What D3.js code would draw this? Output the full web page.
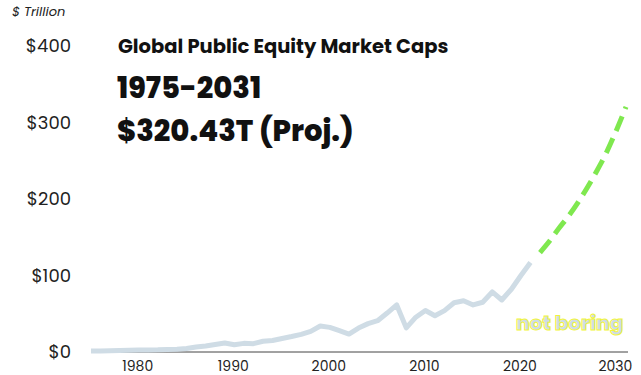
<!DOCTYPE html>
<html>
<head>
<meta charset="utf-8">
<script src="https://cdn.jsdelivr.net/npm/d3@7"></script>
<style>
  body { margin: 0; background: #fff; }
  svg text { font-family: Poppins, Inter, "Noto Sans", sans-serif; }
</style>
</head>
<body>
<div id="plot"></div>
<script>
// chart size
const width = 641;
const height = 375;

// historical market cap, $ trillion
const years = d3.range(1975, 2022);
const caps = [1.2, 1.4, 1.6, 1.9, 2.2, 2.5, 2.7, 2.8, 3.3, 3.6, 4.7, 6.5, 7.8, 9.7, 11.7,
    9.4, 11.3, 10.9, 14.0, 15.1, 17.7, 20.2, 23.0, 26.9, 34.0, 32.2, 27.9, 23.5, 31.3,
    37.1, 40.9, 50.9, 61.5, 31.5, 45.5, 54.2, 47.4, 54.1, 64.4, 67.0, 61.5, 65.0, 78.5,
    68.0, 82.0, 100.0, 117.0];

// projection, $ trillion
const projYears = d3.range(2022, 2032);
const projCaps = [130, 145, 162, 178, 196, 216, 238, 262, 290, 320.43];

const yTicks = [0, 100, 200, 300, 400];
const xTicks = [1980, 1990, 2000, 2010, 2020, 2030];

const x = d3.scaleLinear().domain([1975, 2031]).range([91, 626]);
const y = d3.scaleLinear().domain([0, 400]).range([352, 46]);

const svg = d3.select("div#plot")
    .append("svg")
    .attr("width", width)
    .attr("height", height);

// y labels
svg.append("g")
    .selectAll("text")
    .data(yTicks)
    .enter()
    .append("text")
    .attr("x", 71)
    .attr("y", d => y(d))
    .attr("dy", "0.35em")
    .attr("text-anchor", "end")
    .style("font-size", "18px")
    .style("fill", "#222")
    .text(d => "$" + d);

svg.append("text")
    .attr("x", 12)
    .attr("y", 16)
    .style("font-size", "13px")
    .style("font-style", "italic")
    .style("fill", "#222")
    .text("$ Trillion");

// x axis
svg.append("line")
    .attr("x1", x(1975))
    .attr("x2", 628)
    .attr("y1", y(0))
    .attr("y2", y(0))
    .style("stroke", "#444")
    .style("stroke-width", 1);

svg.append("g")
    .selectAll("text")
    .data(xTicks)
    .enter()
    .append("text")
    .attr("x", d => x(d) - 1)
    .attr("y", 371)
    .attr("text-anchor", "middle")
    .style("font-size", "14px")
    .style("fill", "#222")
    .text(d => d);

// lines
const line = d3.line()
    .x(d => x(d[0]))
    .y(d => y(d[1]));

svg.append("path")
    .datum(d3.zip(years, caps))
    .attr("d", line)
    .style("fill", "none")
    .style("stroke", "#cfdce5")
    .style("stroke-width", 5)
    .style("stroke-linejoin", "round");

svg.append("path")
    .datum(d3.zip(projYears, projCaps))
    .attr("d", line.curve(d3.curveMonotoneX))
    .style("fill", "none")
    .style("stroke", "#7fe84f")
    .style("stroke-width", 5)
    .style("stroke-dasharray", "16,8");

// titles
svg.append("text")
    .attr("x", 118)
    .attr("y", 53)
    .style("font-size", "19.5px")
    .style("font-weight", 700)
    .style("fill", "#111")
    .text("Global Public Equity Market Caps");

svg.append("text")
    .attr("x", 117)
    .attr("y", 98)
    .style("font-size", "29px")
    .style("font-weight", 800)
    .style("fill", "#111")
    .text("1975-2031");

svg.append("text")
    .attr("x", 117)
    .attr("y", 141)
    .style("font-size", "29px")
    .style("font-weight", 800)
    .style("fill", "#111")
    .text("$320.43T (Proj.)");

// watermark
svg.append("text")
    .attr("x", 516)
    .attr("y", 330)
    .style("font-size", "20px")
    .style("font-weight", 800)
    .style("fill", "#cfdce5")
    .style("stroke", "#f2f53c")
    .style("stroke-width", 1)
    .text("not boring");
</script>
</body>
</html>
